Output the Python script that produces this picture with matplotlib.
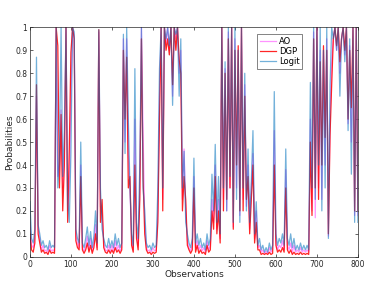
import numpy as np
import matplotlib
matplotlib.use("Agg")
import matplotlib.pyplot as plt

obs = list(range(0, 801, 4))

logit = [0.24,0.08,0.06,0.12,0.87,0.14,0.10,0.05,0.07,0.04,
         0.05,0.03,0.07,0.04,0.05,0.04,1.00,0.30,0.45,1.00,
         0.35,0.55,1.00,0.25,0.15,0.45,1.00,0.98,0.12,0.08,
         0.06,0.50,0.06,0.04,0.08,0.13,0.05,0.11,0.04,0.09,
         0.20,0.06,0.99,0.30,0.12,0.08,0.05,0.04,0.08,0.04,
         0.07,0.04,0.10,0.05,0.08,0.04,0.06,0.97,0.45,1.00,
         0.60,0.30,0.10,0.05,0.82,0.15,0.08,0.40,1.00,0.30,
         0.20,0.06,0.04,0.05,0.03,0.06,0.04,0.05,0.30,0.82,
         1.00,0.30,1.00,0.95,1.00,0.92,1.00,0.66,1.00,0.97,
         1.00,0.70,0.95,0.30,0.46,0.15,0.10,0.06,0.04,0.08,
         0.43,0.06,0.10,0.05,0.08,0.04,0.06,0.03,0.10,0.05,
         0.08,0.36,0.20,0.49,0.15,0.35,0.10,1.00,0.30,0.85,
         0.20,1.00,0.35,1.00,0.15,1.00,0.25,0.90,0.15,1.00,
         0.30,0.80,0.20,0.47,0.15,0.33,0.55,0.10,0.24,0.05,
         0.08,0.03,0.05,0.02,0.04,0.02,0.06,0.03,0.05,0.72,
         0.10,0.05,0.08,0.06,0.10,0.05,0.47,0.08,0.05,0.10,
         0.04,0.08,0.03,0.05,0.03,0.06,0.03,0.05,0.03,0.05,
         0.03,0.76,0.30,1.00,0.25,1.00,0.40,1.00,0.20,0.90,
         0.30,1.00,0.08,0.75,1.00,0.95,1.00,0.90,1.00,0.70,
         0.95,1.00,0.85,1.00,0.55,0.95,0.36,1.00,0.15,1.00,
         0.15]

dgp = [0.10,0.03,0.02,0.06,0.75,0.10,0.06,0.02,0.03,0.015,
       0.02,0.01,0.03,0.015,0.02,0.015,1.00,0.92,0.30,0.62,
       0.20,0.40,1.00,0.15,0.47,0.89,1.00,0.95,0.07,0.04,
       0.03,0.35,0.03,0.015,0.03,0.06,0.02,0.05,0.015,0.04,
       0.10,0.03,0.99,0.15,0.25,0.04,0.02,0.015,0.03,0.015,
       0.03,0.015,0.04,0.02,0.03,0.015,0.03,0.90,0.60,0.87,
       0.30,0.35,0.05,0.02,0.40,0.08,0.03,0.25,0.95,0.34,
       0.10,0.03,0.015,0.02,0.01,0.02,0.015,0.02,0.15,0.60,
       1.00,0.20,1.00,0.90,0.95,0.88,1.00,0.75,1.00,0.90,
       1.00,0.86,0.80,0.20,0.35,0.25,0.05,0.03,0.015,0.03,
       0.30,0.02,0.05,0.015,0.03,0.015,0.02,0.01,0.05,0.02,
       0.03,0.20,0.12,0.35,0.10,0.20,0.06,1.00,0.20,0.80,
       0.25,0.95,0.30,1.00,0.12,0.90,0.40,0.92,0.20,1.00,
       0.20,0.70,0.25,0.35,0.10,0.25,0.40,0.06,0.15,0.03,
       0.03,0.01,0.015,0.01,0.015,0.01,0.02,0.01,0.015,0.40,
       0.05,0.02,0.03,0.02,0.04,0.02,0.30,0.03,0.015,0.03,
       0.01,0.02,0.01,0.015,0.01,0.02,0.01,0.015,0.01,0.015,
       0.01,0.50,0.18,0.95,0.30,1.00,0.25,0.85,0.40,0.92,
       0.52,0.90,0.10,0.53,0.75,0.95,1.00,0.92,1.00,0.85,
       0.95,1.00,0.90,1.00,0.60,0.90,0.65,1.00,0.20,1.00,
       0.20]

ao = [0.15,0.05,0.04,0.08,0.70,0.12,0.08,0.03,0.05,0.025,
      0.03,0.02,0.05,0.025,0.03,0.025,1.00,0.35,0.40,0.64,
      0.30,0.45,1.00,0.20,0.30,0.70,1.00,0.96,0.09,0.06,
      0.04,0.40,0.04,0.025,0.05,0.09,0.03,0.08,0.025,0.06,
      0.14,0.04,0.98,0.22,0.18,0.06,0.03,0.025,0.05,0.025,
      0.05,0.025,0.07,0.03,0.05,0.025,0.04,0.95,0.50,0.95,
      0.45,0.30,0.07,0.03,0.60,0.10,0.05,0.30,1.00,0.54,
      0.15,0.04,0.025,0.03,0.02,0.04,0.025,0.03,0.20,0.70,
      1.00,0.25,1.00,0.93,1.00,0.90,1.00,0.70,1.00,0.95,
      1.00,0.80,0.90,0.25,0.47,0.20,0.07,0.04,0.025,0.05,
      0.35,0.04,0.07,0.03,0.05,0.025,0.04,0.02,0.07,0.03,
      0.05,0.25,0.15,0.40,0.12,0.25,0.08,1.00,0.25,0.82,
      0.20,0.98,0.30,1.00,0.13,0.95,0.30,0.90,0.18,1.00,
      0.25,0.75,0.22,0.40,0.12,0.30,0.45,0.08,0.20,0.04,
      0.05,0.02,0.03,0.015,0.025,0.015,0.04,0.02,0.03,0.55,
      0.07,0.03,0.05,0.04,0.07,0.03,0.38,0.05,0.03,0.06,
      0.02,0.05,0.02,0.03,0.02,0.04,0.02,0.03,0.02,0.03,
      0.02,0.60,0.20,0.98,0.17,1.00,0.30,0.90,0.25,0.90,
      0.40,0.95,0.09,0.60,0.85,0.95,1.00,0.90,1.00,0.80,
      0.95,1.00,0.88,1.00,0.58,0.92,0.50,1.00,0.18,1.00,
      0.18]

xticks = [0, 100, 200, 300, 400, 500, 600, 700, 800]
yticks = [0, 0.1, 0.2, 0.3, 0.4, 0.5, 0.6, 0.7, 0.8, 0.9, 1]

fig = plt.figure(figsize=(3.74, 2.85), dpi=100)
ax = fig.add_axes([0.080, 0.099, 0.877, 0.805])

ax.plot(obs, ao, color='#ff66ff', lw=0.9, alpha=0.7, label='AO')
ax.plot(obs, dgp, color='#ff0000', lw=0.9, alpha=0.85, label='DGP')
ax.plot(obs, logit, color='#0072BD', lw=0.9, alpha=0.55, label='Logit')

ax.set_xlim(0, 800)
ax.set_ylim(0, 1)
ax.set_xticks(xticks)
ax.set_yticks(yticks)
ax.set_xticklabels([str(t) for t in xticks])
ax.set_yticklabels(['0'] + ['%.1f' % t for t in yticks[1:-1]] + ['1'])
ax.tick_params(direction='in', length=2.5, width=0.5, labelsize=5.5,
               colors='#262626', top=True, right=True, pad=2)
for s in ax.spines.values():
    s.set_linewidth(0.5)
    s.set_color('#262626')
ax.set_xlabel('Observations', fontsize=6.5, color='#262626', labelpad=1)
ax.set_ylabel('Probabilities', fontsize=6.5, color='#262626', labelpad=0.5)

leg = ax.legend(loc='upper right', bbox_to_anchor=(0.829, 0.971), fontsize=6,
                frameon=True, fancybox=False, handlelength=2.0,
                borderpad=0.3, labelspacing=0.15, handletextpad=0.3,
                borderaxespad=0)
leg.get_frame().set_edgecolor('#262626')
leg.get_frame().set_linewidth(0.5)

fig.savefig('out.png', dpi=100)
